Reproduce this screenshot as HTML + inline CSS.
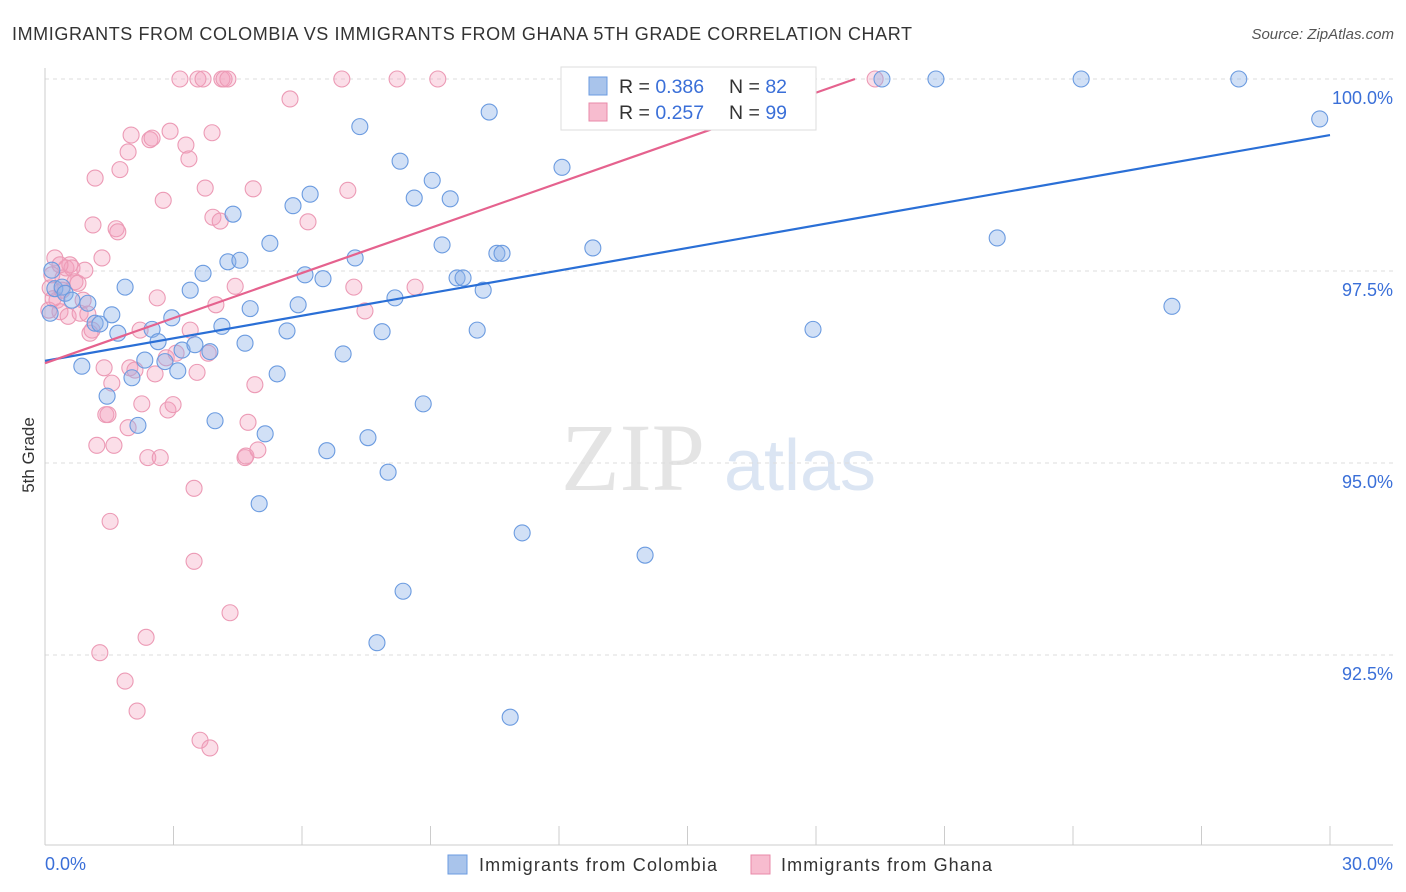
<!DOCTYPE html>
<html><head><meta charset="utf-8"><style>
body{margin:0;background:#fff;font-family:"Liberation Sans",sans-serif}
svg{display:block}
</style></head><body>
<svg width="1406" height="892" viewBox="0 0 1406 892">
<text x="12" y="40" font-size="18" fill="#333" textLength="900" lengthAdjust="spacing">IMMIGRANTS FROM COLOMBIA VS IMMIGRANTS FROM GHANA 5TH GRADE CORRELATION CHART</text>
<text x="1394" y="39" font-size="15" fill="#555" font-style="italic" text-anchor="end">Source: ZipAtlas.com</text>
<text transform="translate(34,455) rotate(-90)" font-size="17" fill="#333" text-anchor="middle">5th Grade</text>
<g>
<text x="633" y="490" font-size="96" fill="#e4e4e4" font-family="Liberation Serif,serif" text-anchor="middle">ZIP</text>
<text x="800" y="490" font-size="72" fill="#dbe5f3" text-anchor="middle">atlas</text>
</g>
<g id="grid"></g><g id="axes"></g><g id="pts"></g><g id="trends"></g>
<g>
<rect x="561" y="67" width="255" height="63" fill="#fff" stroke="#ddd"/>
<rect x="589" y="77" width="18" height="18" fill="#a9c4eb" stroke="#6b9be0"/>
<rect x="589" y="103" width="18" height="18" fill="#f7bccf" stroke="#e88aa8"/>
<text x="619" y="93" font-size="19.5" fill="#333">R = <tspan fill="#3a6fd8">0.386</tspan></text>
<text x="729" y="93" font-size="19.5" fill="#333">N = <tspan fill="#3a6fd8">82</tspan></text>
<text x="619" y="119" font-size="19.5" fill="#333">R = <tspan fill="#3a6fd8">0.257</tspan></text>
<text x="729" y="119" font-size="19.5" fill="#333">N = <tspan fill="#3a6fd8">99</tspan></text>
</g>
<g>
<rect x="448" y="855" width="19" height="19" fill="#a9c4eb" stroke="#6b9be0"/>
<text x="479" y="871" font-size="18" fill="#333" textLength="238" lengthAdjust="spacing">Immigrants from Colombia</text>
<rect x="751" y="855" width="19" height="19" fill="#f7bccf" stroke="#e88aa8"/>
<text x="781" y="871" font-size="18" fill="#333" textLength="211" lengthAdjust="spacing">Immigrants from Ghana</text>
</g>
</svg>
<script>
const yTicks=[100,97.5,95,92.5];
const yTickLabels=["100.0%","97.5%","95.0%","92.5%"];
const xTicks=[0,3,6,9,12,15,18,21,24,27,30];
const xEndLabels=["0.0%","30.0%"];
const blueX=[0.12,0.16,0.23,0.40,0.47,0.63,0.86,1.00,1.17,1.28,1.45,1.56,1.70,1.87,2.03,2.17,2.33,2.50,2.64,2.80,2.96,3.10,3.20,3.39,3.50,3.69,3.85,3.97,4.13,4.27,4.39,4.55,4.67,4.79,5.00,5.14,5.25,5.42,5.65,5.79,5.91,6.07,6.19,6.49,6.58,6.96,7.24,7.35,7.54,7.87,8.01,8.17,8.29,8.36,7.75,8.62,8.83,9.04,9.27,9.46,9.62,9.76,10.09,10.23,10.37,10.55,10.67,10.86,11.14,12.07,12.79,14.01,17.93,19.54,20.80,22.23,24.19,26.31,27.87,29.76,14.50,15.29];
const blueY=[96.95,97.51,97.27,97.29,97.21,97.12,96.26,97.08,96.82,96.81,95.87,96.93,96.69,97.29,96.11,95.49,96.34,96.74,96.58,96.32,96.89,96.20,96.47,97.25,96.54,97.47,96.45,95.55,96.78,97.62,98.24,97.64,96.56,97.01,94.47,95.38,97.86,96.16,96.72,98.35,97.06,97.45,98.50,97.40,95.16,96.42,97.67,99.38,95.33,96.71,94.88,97.15,98.93,93.33,92.66,98.45,95.77,98.68,97.84,98.44,97.41,97.41,96.73,97.25,99.57,97.73,97.73,91.69,94.09,98.85,97.80,93.80,96.74,100,100,97.93,100,97.04,100,99.48,100,100];
const pinkX=[0.12,0.16,0.23,0.28,0.35,0.42,0.49,0.54,0.58,0.63,0.70,0.77,0.82,0.89,0.93,1.00,1.05,1.10,1.17,1.12,1.21,1.28,1.33,1.38,1.42,1.47,1.52,1.56,1.61,1.66,1.70,1.75,1.87,1.94,1.98,1.94,2.01,2.10,2.15,2.22,2.26,2.36,2.40,2.45,2.50,2.57,2.62,2.69,2.76,2.83,2.87,2.92,2.99,3.06,3.15,3.29,3.36,3.39,3.48,3.48,3.55,3.57,3.62,3.69,3.74,3.81,3.85,3.90,3.92,3.99,4.09,4.13,4.18,4.27,4.32,4.44,4.67,4.69,4.74,4.86,4.90,4.97,5.72,6.14,6.93,7.07,7.21,7.47,8.22,8.64,9.17,19.38,0.35,0.09,0.19,0.40];
const pinkY=[97.28,97.45,97.67,97.12,96.97,97.41,97.54,96.91,97.58,97.54,97.36,97.34,96.95,97.12,97.51,96.94,96.69,96.73,98.71,98.10,95.23,92.53,97.67,96.24,95.63,95.63,94.24,96.04,95.23,98.05,98.01,98.82,92.16,95.46,96.24,99.05,99.27,96.21,91.77,96.73,95.77,92.73,95.07,99.21,99.23,96.16,97.15,95.07,98.42,96.37,95.69,99.32,95.76,96.43,100,99.14,98.96,96.73,94.67,93.72,96.18,100,91.39,100,98.58,96.43,91.29,99.30,98.20,97.06,98.15,100,100,100,93.05,97.30,95.07,95.09,95.53,98.57,96.02,95.17,99.74,98.14,100,98.55,97.29,96.98,100,97.29,100,100,97.58,96.99,97.14,97.25];
const blueTrend=[0,96.33,30,99.27];
const pinkTrend=[0,96.30,18.91,100];

const NS="http://www.w3.org/2000/svg";
const X0=45,X1=1330,XMAX=30,YTOP=79,PX_PER=76.8;
const sx=v=>X0+(v/XMAX)*(X1-X0);
const sy=v=>YTOP+(100-v)*PX_PER;
function mk(tag,attrs,parent){const e=document.createElementNS(NS,tag);for(const k in attrs)e.setAttribute(k,attrs[k]);parent.appendChild(e);return e;}
const grid=document.getElementById('grid'),axes=document.getElementById('axes');
yTicks.forEach((t,i)=>{
 const l=mk('line',{x1:X0,x2:1393,y1:sy(t),y2:sy(t),stroke:'#ddd','stroke-dasharray':'4,4'},grid);
 
 
 const tx=mk('text',{x:1393,y:sy(t)+25,'font-size':18,fill:'#3a6fd8','text-anchor':'end'},axes);
 tx.textContent=yTickLabels[i];
 
 
});
const ax=mk('line',{x1:X0,x2:X0,y1:68,y2:845,stroke:'#ccc'},axes);


const bx=mk('line',{x1:X0,x2:1393,y1:845,y2:845,stroke:'#ccc'},axes);


xTicks.forEach(t=>{
 const l=mk('line',{x1:sx(t),x2:sx(t),y1:826,y2:845,stroke:'#ccc'},axes);
 
 
});
const xl0=mk('text',{x:45,y:870,'font-size':18,fill:'#3a6fd8'},axes);xl0.textContent=xEndLabels[0];


const xl1=mk('text',{x:1393,y:870,'font-size':18,fill:'#3a6fd8','text-anchor':'end'},axes);xl1.textContent=xEndLabels[1];


const pts=document.getElementById('pts');
pinkX.forEach((x,i)=>{
 const c=mk('circle',{cx:sx(x),cy:sy(pinkY[i]),r:8,fill:'rgba(243,160,190,0.35)',stroke:'#ec9ab5','stroke-width':1.1},pts);
 
 
});
blueX.forEach((x,i)=>{
 const c=mk('circle',{cx:sx(x),cy:sy(blueY[i]),r:8,fill:'rgba(140,178,232,0.4)',stroke:'#6b9be0','stroke-width':1.1},pts);
 
 
});
const tr=document.getElementById('trends');
const bl=mk('line',{x1:sx(blueTrend[0]),y1:sy(blueTrend[1]),x2:sx(blueTrend[2]),y2:sy(blueTrend[3]),stroke:'#2a6fd6','stroke-width':2.2},tr);


const pl=mk('line',{x1:sx(pinkTrend[0]),y1:sy(pinkTrend[1]),x2:sx(pinkTrend[2]),y2:sy(pinkTrend[3]),stroke:'#e5628e','stroke-width':2.2},tr);


</script>
</body></html>
